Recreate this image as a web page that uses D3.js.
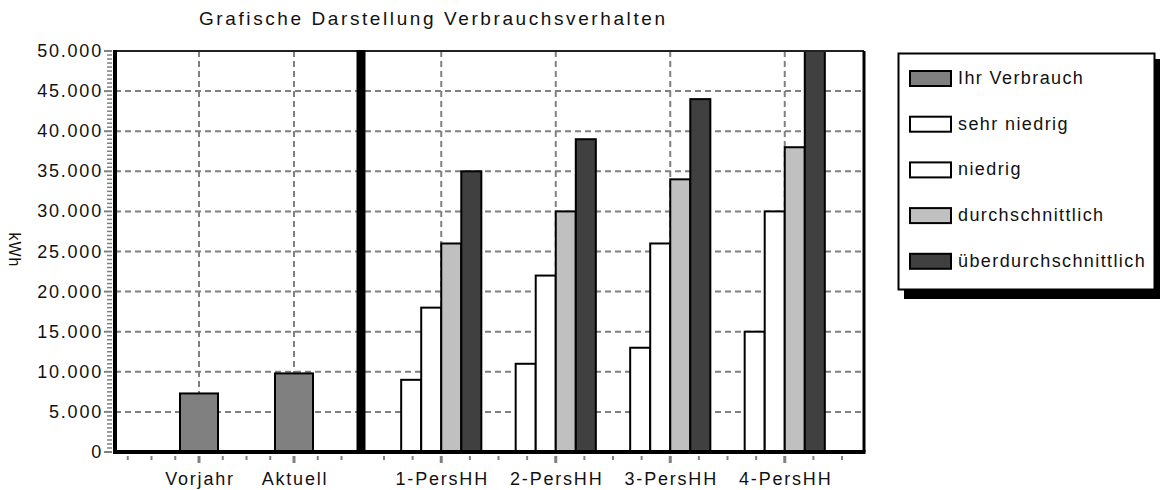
<!DOCTYPE html>
<html>
<head>
<meta charset="utf-8">
<script src="https://cdn.jsdelivr.net/npm/d3@7"></script>
<style>
  body { margin: 0; background: #fff; }
  svg { display: block; font-family: "Liberation Sans", Arial, sans-serif; }
  .lbl { font-size: 18px; letter-spacing: 1.8px; fill: #111; }
  .item text { letter-spacing: 1.4px; }
</style>
</head>
<body>
<svg id="chart" width="1161" height="490"></svg>
<script>
// data
const yourLabels = ["Vorjahr", "Aktuell"];
const yourValues = [7300, 9800];

const hhLabels = ["1-PersHH", "2-PersHH", "3-PersHH", "4-PersHH"];
const levelNames = ["sehr niedrig", "niedrig", "durchschnittlich", "überdurchschnittlich"];
const sehrNiedrig = [9000, 11000, 13000, 15000];
const niedrig = [18000, 22000, 26000, 30000];
const durchschnitt = [26000, 30000, 34000, 38000];
const ueberdurchschnitt = [35000, 39000, 44000, 50000];

const yTicks = [0, 5000, 10000, 15000, 20000, 25000, 30000, 35000, 40000, 45000, 50000];
const titleText = "Grafische Darstellung Verbrauchsverhalten";
const yTitle = "kWh";

document.addEventListener('DOMContentLoaded', () => {

  const svg = d3.select('#chart');
  const colors = ["#ffffff", "#ffffff", "#c0c0c0", "#404040"];
  const yourColor = "#808080";

  const plotLeft = 115, plotRight = 864, plotTop = 51, plotBottom = 452;
  const sepX = 361;

  const y = d3.scaleLinear().domain([0, 50000]).range([plotBottom, plotTop]);
  const de = d3.formatLocale({ decimal: ",", thousands: ".", grouping: [3], currency: ["", "€"] });
  const fmt = de.format(",d");

  // left panel (your consumption), right panel (households)
  const xLeft = d3.scaleBand().domain(yourLabels).range([151.5, 341.5]).paddingInner(0.6).paddingOuter(0.3);
  const xRight = d3.scaleBand().domain(hhLabels).range([384, 842]).paddingInner(0.3).paddingOuter(0.15);
  const xInner = d3.scaleBand().domain(levelNames).range([0, xRight.bandwidth()]);

  const centerL = d => xLeft(d) + xLeft.bandwidth() / 2;
  const centerR = d => xRight(d) + xRight.bandwidth() / 2;

  // horizontal grid
  svg.append('g')
    .selectAll('line')
    .data(yTicks.filter(t => t > 0 && t < 50000))
    .enter()
    .append('line')
    .attr('x1', plotLeft).attr('x2', plotRight)
    .attr('y1', d => y(d)).attr('y2', d => y(d))
    .attr('stroke', '#808080').attr('stroke-width', 2).attr('stroke-dasharray', '6,4');

  // vertical grid
  const vx = yourLabels.map(centerL).concat(hhLabels.map(centerR));
  svg.append('g')
    .selectAll('line')
    .data(vx)
    .enter()
    .append('line')
    .attr('x1', d => d).attr('x2', d => d)
    .attr('y1', plotTop).attr('y2', plotBottom)
    .attr('stroke', '#808080').attr('stroke-width', 2).attr('stroke-dasharray', '6,4');

  // x ticks (minor every quarter step)
  const xt = [];
  const stepL = xLeft.step() / 4, stepR = xRight.step() / 4;
  for (let k = -8; k <= 8; k++) {
    const a = centerL(yourLabels[0]) + k * stepL;
    if (a > plotLeft + 5 && a < sepX - 6) xt.push({ x: a, major: k % 4 === 0 });
    const b = centerR(hhLabels[0]) + k * stepR;
    if (b > sepX + 6 && b < plotRight - 5 && k < 0) xt.push({ x: b, major: false });
  }
  hhLabels.forEach(h => {
    for (let k = 0; k < 4; k++) {
      const b = centerR(h) + k * stepR;
      if (b < plotRight - 5) xt.push({ x: b, major: k === 0 });
    }
  });
  svg.append('g')
    .selectAll('line')
    .data(xt)
    .enter()
    .append('line')
    .attr('x1', d => d.x).attr('x2', d => d.x)
    .attr('y1', plotBottom + 4).attr('y2', d => d.major ? plotBottom + 11 : plotBottom + 8)
    .attr('stroke', '#808080').attr('stroke-width', d => d.major ? 3 : 2);

  // y minor ticks
  svg.append('g')
    .selectAll('line')
    .data(d3.range(0, 50001, 500))
    .enter()
    .append('line')
    .attr('x1', d => d % 5000 === 0 ? 104 : 107).attr('x2', 112)
    .attr('y1', d => y(d)).attr('y2', d => y(d))
    .attr('stroke', '#808080').attr('stroke-width', d => d % 5000 === 0 ? 2 : 1.5);

  // y tick labels
  svg.append('g')
    .selectAll('text')
    .data(yTicks)
    .enter()
    .append('text')
    .attr('class', 'lbl')
    .attr('x', 103)
    .attr('y', d => y(d) + 6)
    .attr('text-anchor', 'end')
    .text(d => fmt(d));

  // left bars
  svg.append('g')
    .selectAll('rect')
    .data(yourValues)
    .enter()
    .append('rect')
    .attr('x', (d, i) => xLeft(yourLabels[i]))
    .attr('width', xLeft.bandwidth())
    .attr('y', d => y(d))
    .attr('height', d => y(0) - y(d))
    .attr('fill', yourColor)
    .attr('stroke', '#000').attr('stroke-width', 2);

  // right grouped bars
  const series = [sehrNiedrig, niedrig, durchschnitt, ueberdurchschnitt];
  const groups = svg.append('g')
    .selectAll('g')
    .data(hhLabels)
    .enter()
    .append('g')
    .attr('transform', d => `translate(${xRight(d)},0)`);

  groups.selectAll('rect')
    .data((h, i) => series.map((s, j) => ({ level: levelNames[j], value: s[i], j: j })))
    .enter()
    .append('rect')
    .attr('x', d => xInner(d.level))
    .attr('width', xInner.bandwidth())
    .attr('y', d => y(d.value))
    .attr('height', d => y(0) - y(d.value))
    .attr('fill', d => colors[d.j])
    .attr('stroke', '#000').attr('stroke-width', 2);

  // frame
  svg.append('line').attr('x1', plotLeft).attr('x2', plotRight).attr('y1', plotTop).attr('y2', plotTop)
    .attr('stroke', '#222').attr('stroke-width', 2);
  svg.append('line').attr('x1', plotRight).attr('x2', plotRight).attr('y1', plotTop).attr('y2', plotBottom)
    .attr('stroke', '#000').attr('stroke-width', 3);
  svg.append('line').attr('x1', plotLeft).attr('x2', plotRight + 1.5).attr('y1', plotBottom).attr('y2', plotBottom)
    .attr('stroke', '#000').attr('stroke-width', 4);
  svg.append('line').attr('x1', plotLeft).attr('x2', plotLeft).attr('y1', plotTop - 1).attr('y2', plotBottom + 2)
    .attr('stroke', '#000').attr('stroke-width', 4);
  svg.append('line').attr('x1', sepX).attr('x2', sepX).attr('y1', plotTop - 1).attr('y2', plotBottom + 2)
    .attr('stroke', '#000').attr('stroke-width', 9);

  // x labels
  svg.append('g')
    .selectAll('text')
    .data(yourLabels.map(d => ({ t: d, x: centerL(d) })).concat(hhLabels.map(d => ({ t: d, x: centerR(d) }))))
    .enter()
    .append('text')
    .attr('class', 'lbl')
    .attr('x', d => d.x + 1)
    .attr('y', 485)
    .attr('text-anchor', 'middle')
    .text(d => d.t);

  // title
  svg.append('text')
    .attr('x', 199).attr('y', 25)
    .attr('font-size', 19)
    .attr('fill', '#111')
    .attr('textLength', 466).attr('lengthAdjust', 'spacing')
    .text(titleText);

  // y axis title
  svg.append('text')
    .attr('transform', 'translate(9,250) rotate(90)')
    .attr('text-anchor', 'middle')
    .attr('font-size', 16)
    .attr('letter-spacing', 1)
    .attr('fill', '#111')
    .text(yTitle);

  // legend
  const lg = svg.append('g');
  lg.append('rect').attr('x', 904).attr('y', 59).attr('width', 256).attr('height', 240).attr('fill', '#000');
  lg.append('rect').attr('x', 898.5).attr('y', 53.5).attr('width', 256).attr('height', 236)
    .attr('fill', '#fff').attr('stroke', '#000').attr('stroke-width', 2);

  const legendItems = [{ name: "Ihr Verbrauch", color: yourColor }]
    .concat(levelNames.map((n, j) => ({ name: n, color: colors[j] })));

  const items = lg.selectAll('.item')
    .data(legendItems)
    .enter()
    .append('g')
    .attr('class', 'item')
    .attr('transform', (d, i) => `translate(0,${78 + i * 45.7})`);

  items.append('rect')
    .attr('x', 910).attr('y', -7).attr('width', 41).attr('height', 15)
    .attr('fill', d => d.color)
    .attr('stroke', '#000').attr('stroke-width', 2);

  items.append('text')
    .attr('class', 'lbl')
    .attr('x', 958).attr('y', 6)
    .text(d => d.name);
});
</script>
</body>
</html>
